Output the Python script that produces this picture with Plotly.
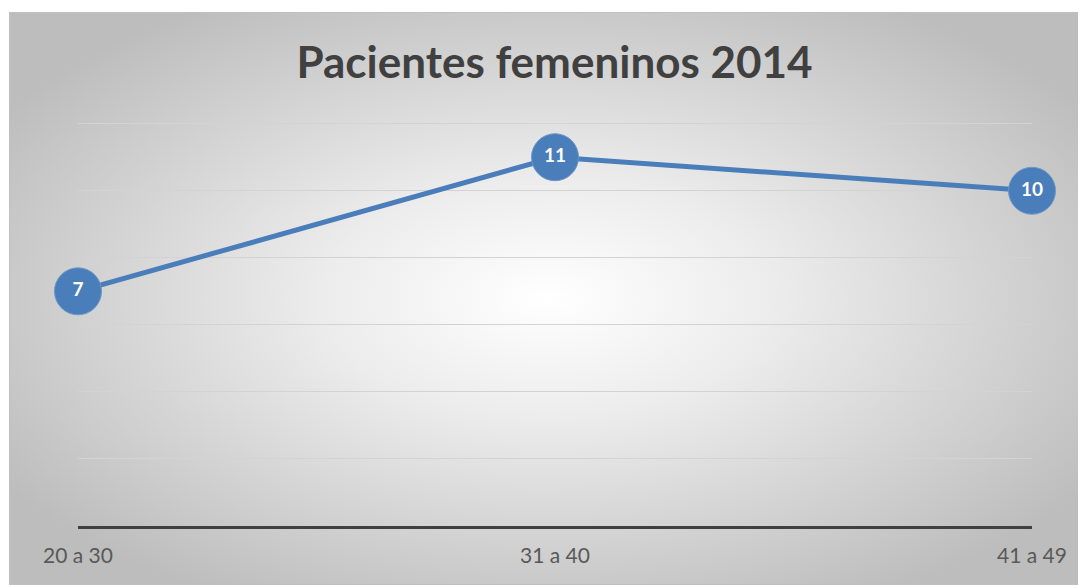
import base64
import plotly.graph_objects as go

# data
age_groups = ['20 a 30', '31 a 40', '41 a 49']
patients = [7, 11, 10]
title_text = 'Pacientes femeninos 2014'

blue = '#4a7ebb'

# radial grey background, drawn as an svg image behind the plot
svg = ('<svg xmlns="http://www.w3.org/2000/svg" width="1077" height="573" '
       'viewBox="0 0 1077 573" preserveAspectRatio="none">'
       '<defs><radialGradient id="g" cx="0.5" cy="0.5" r="0.6">'
       '<stop offset="0" stop-color="#ffffff"/>'
       '<stop offset="0.35" stop-color="#ececec"/>'
       '<stop offset="1" stop-color="#bdbdbd"/>'
       '</radialGradient></defs>'
       '<rect x="0" y="0" width="1077" height="573" fill="url(#g)"/>'
       '<rect x="0.5" y="0.5" width="1076" height="572" fill="none" stroke="#bfbfbf" stroke-width="1"/>'
       '</svg>')
bg_uri = 'data:image/svg+xml;base64,' + base64.b64encode(svg.encode()).decode()

# the page has an 8px body margin, so the figure is laid out 8px up and left
W, H = 1078, 577
L, R, T, B = 70, 54, 109, 59
pw, ph = W - L - R, H - T - B

fig = go.Figure()
fig.add_trace(go.Scatter(x=age_groups, y=patients,
                         mode='lines+markers+text',
                         line=dict(color=blue, width=5),
                         marker=dict(color=blue, size=47,
                                     line=dict(color='#6d96c9', width=1)),
                         text=[str(v) for v in patients],
                         textposition='middle center',
                         textfont=dict(family='Lato', size=19, color='white', weight='bold'),
                         cliponaxis=False,
                         showlegend=False))

fig.add_layout_image(dict(source=bg_uri, xref='paper', yref='paper',
                          x=(1 - L) / pw, y=(ph + T - 4) / ph,
                          sizex=1077 / pw, sizey=573 / ph,
                          sizing='stretch', xanchor='left', yanchor='top',
                          layer='below'))

fig.update_layout(
    width=W, height=H,
    margin=dict(l=L, r=R, t=T, b=B),
    paper_bgcolor='white',
    plot_bgcolor='rgba(0,0,0,0)',
    title=dict(text='<b>' + title_text + '</b>', x=0.507, xanchor='center',
               y=1 - 55 / H, yanchor='middle',
               font=dict(family='Lato', size=44, color='#404040')),
    xaxis=dict(type='category', range=[0, 2], showgrid=False,
               showline=True, linecolor='#404040', linewidth=3,
               ticks='outside', ticklen=9, tickcolor='rgba(0,0,0,0)',
               tickfont=dict(family='Lato', size=21, color='#595959')),
    yaxis=dict(range=[0, 12.2], dtick=2, showticklabels=False,
               showgrid=True, gridcolor='#d3d3d3', gridwidth=1,
               zeroline=False, showline=False),
)

fig.write_html('out.html')
